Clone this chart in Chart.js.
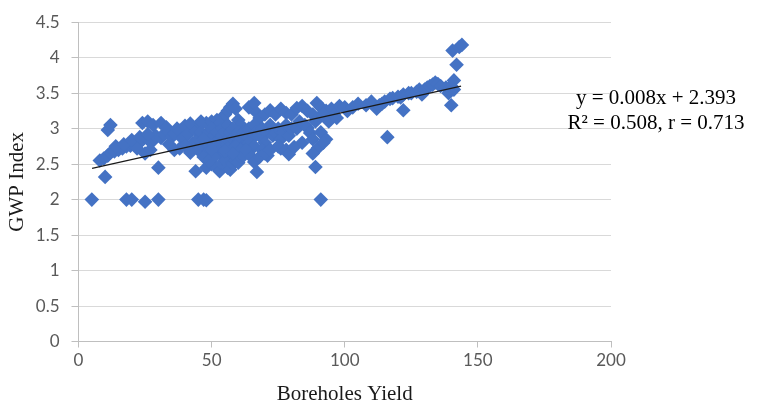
<!DOCTYPE html>
<html>
<head>
<meta charset="utf-8">
<script src="https://cdn.jsdelivr.net/npm/chart.js@4.4.1/dist/chart.umd.min.js"></script>
<style>
  html, body { margin: 0; padding: 0; background: #ffffff; }
  #wrap { width: 758px; height: 407px; }
</style>
</head>
<body>
<div id="wrap"><canvas id="c" width="758" height="407"></canvas></div>
<script>
// ---- Data ----
const boreholeYield = [
  5, 10, 8, 9.5, 11, 12, 13.5, 15, 16.5, 18, 19.5, 21, 22.5, 24,
  11, 12, 18, 20, 25, 30, 24, 26, 28, 25, 26, 28, 29, 30, 31, 31,
  32, 33, 34, 35, 36, 37, 38, 39, 40, 41, 42, 43, 44, 44, 45, 46,
  47, 48, 48, 38, 40, 42, 34, 36,
  14, 17, 20, 23, 26, 22, 27,
  46, 48, 50, 51, 52, 53, 54, 55, 56, 57, 58, 59, 60, 61,
  45, 46, 47, 48, 49, 50, 50, 51, 52, 52, 53, 54, 54, 55, 55, 56, 56, 57, 57, 58, 58, 59, 60, 60, 61, 62, 62,
  45, 47, 49, 51, 53, 56, 59, 61, 54, 57,
  47, 48, 49, 50, 51, 52, 53, 54, 55, 56, 57, 58, 59, 60, 61, 62, 50, 55, 58,
  64, 66, 67, 68, 70, 72, 74, 76, 78, 80,
  63, 64, 65, 66, 67, 68, 69, 70, 71, 72, 73, 74, 75, 76, 77, 78, 79, 80,
  64, 66, 69, 71, 76,
  63, 65, 66, 67, 68, 70, 72, 75, 78, 79,
  82, 84, 86, 88, 89.5, 91, 93, 95, 98, 100, 101,
  81, 82, 83, 84, 85, 86, 87, 88, 89, 90, 90, 91, 92, 93, 94, 96, 97,
  88, 89, 91, 92,
  103, 105, 108, 110, 112, 113, 114, 115, 117, 118, 120, 121, 122, 122, 124, 125,
  127, 128, 129, 130, 131, 132, 133, 134, 135, 136, 138, 139, 116,
  140, 141, 142, 140.5, 143, 144, 139, 140, 141
];
const gwpIndex = [
  2.0, 2.32, 2.55, 2.58, 2.62, 2.66, 2.68, 2.7, 2.72, 2.75, 2.76, 2.8, 2.79, 2.84,
  2.98, 3.05, 2.0, 2.0, 1.97, 2.0, 3.08, 3.1, 3.05, 2.65, 2.85, 2.83, 2.9, 2.45, 2.87, 3.08,
  2.92, 3.02, 2.95, 2.88, 2.93, 3.0, 2.97, 2.86, 3.04, 2.92, 3.07, 2.8, 2.4, 2.97, 2.0, 3.06,
  2.0, 1.99, 2.9, 2.72, 2.76, 2.66, 2.78, 2.7,
  2.75, 2.78, 2.84, 2.88, 2.92, 2.72, 2.7,
  3.1, 3.08, 3.1, 3.05, 3.12, 3.08, 3.15, 3.2, 3.25, 3.3, 3.35, 3.28, 3.12, 3.05,
  2.85, 2.95, 2.75, 2.8, 2.95, 2.85, 3.0, 2.9, 2.75, 2.95, 2.85, 2.9, 3.0, 2.8, 2.95, 3.05, 2.85, 2.75, 2.95, 3.0, 2.85, 2.9, 2.95, 2.8, 2.85, 2.75, 2.95,
  2.7, 2.85, 2.68, 2.78, 2.68, 2.72, 2.75, 2.7, 2.62, 2.6,
  2.6, 2.45, 2.55, 2.5, 2.6, 2.45, 2.4, 2.5, 2.55, 2.45, 2.42, 2.5, 2.55, 2.52, 2.6, 2.62, 2.7, 2.68, 2.65,
  3.3, 3.36, 3.22, 3.15, 3.2, 3.26, 3.2, 3.28, 3.22, 3.2,
  2.9, 3.0, 2.85, 3.05, 2.95, 2.9, 3.0, 2.8, 2.95, 3.05, 2.9, 2.94, 3.0, 2.85, 2.95, 3.05, 2.9, 3.0,
  2.8, 2.75, 2.7, 2.62, 2.72,
  2.7, 2.6, 2.53, 2.39, 2.6, 2.65, 2.7, 2.75, 2.7, 2.64,
  3.29, 3.32, 3.25, 3.2, 3.36, 3.3, 3.25, 3.28, 3.32, 3.3, 3.25,
  2.74, 3.0, 3.1, 2.8, 3.05, 3.01, 2.94, 2.85, 3.1, 3.15, 2.73, 2.95, 3.2, 2.85, 3.1, 3.2, 3.15,
  2.65, 2.46, 2.0, 2.8,
  3.3, 3.35, 3.33, 3.38, 3.28, 3.33, 3.35, 3.38, 3.42, 3.43, 3.45, 3.44, 3.48, 3.26, 3.5, 3.5,
  3.52, 3.55, 3.48, 3.55, 3.58, 3.6, 3.62, 3.65, 3.63, 3.6, 3.58, 3.5, 2.88,
  3.33, 3.68, 3.9, 4.1, 4.15, 4.18, 3.55, 3.6, 3.55
];
// Trend line end points as drawn in the picture
const trendX = [5.1, 143.7];
const trendY = [2.44, 3.60];
// Axis ticks
const xTicks = [0, 50, 100, 150, 200];
const yTicks = [0, 0.5, 1, 1.5, 2, 2.5, 3, 3.5, 4, 4.5];
const xTitle = 'Boreholes Yield';
const yTitle = 'GWP Index';
const eqLines = ['y = 0.008x + 2.393', 'R\u00B2 = 0.508, r = 0.713'];

// ---- Build chart ----
const scatterPts = boreholeYield.map((x, i) => ({ x: x, y: gwpIndex[i] }));
const trendPts = trendX.map((x, i) => ({ x: x, y: trendY[i] }));

const eqPlugin = {
  id: 'eqText',
  afterDraw(chart) {
    const ctx = chart.ctx;
    ctx.save();
    ctx.fillStyle = '#000000';
    ctx.font = '21px "Liberation Serif", "Times New Roman", serif';
    ctx.textAlign = 'center';
    ctx.textBaseline = 'middle';
    const cx = 656;
    ctx.fillText(eqLines[0], cx, 98);
    ctx.fillText(eqLines[1], cx, 123);
    ctx.restore();
  }
};

new Chart(document.getElementById('c'), {
  type: 'scatter',
  data: {
    datasets: [
      {
        type: 'line',
        data: trendPts,
        borderColor: '#1a1a1a',
        borderWidth: 1.2,
        pointRadius: 0,
        fill: false,
        order: 0
      },
      {
        data: scatterPts,
        pointStyle: 'rectRot',
        pointRadius: 7.3,
        pointHoverRadius: 7.3,
        backgroundColor: '#4472C4',
        borderColor: '#4472C4',
        borderWidth: 0,
        order: 1
      }
    ]
  },
  options: {
    responsive: false,
    animation: false,
    events: [],
    layout: { padding: { top: 20.5, right: 147, left: 0, bottom: 0 } },
    plugins: { legend: { display: false }, tooltip: { enabled: false } },
    scales: {
      x: {
        type: 'linear',
        min: 0, max: 200,
        afterBuildTicks: s => { s.ticks = xTicks.map(v => ({ value: v })); },
        afterFit: s => { s.height = 65.5; },
        grid: { drawOnChartArea: false, drawTicks: true, tickLength: 6, tickColor: '#bfbfbf' },
        border: { color: '#bfbfbf', width: 1 },
        ticks: {
          color: '#595959', padding: 3,
          font: { family: 'Lato, "Open Sans", sans-serif', size: 17 },
          callback: v => String(v)
        },
        title: {
          display: true, text: xTitle, color: '#1a1a1a',
          font: { family: '"Liberation Serif", "Times New Roman", serif', size: 21 },
          padding: { top: 0, bottom: 0 }
        }
      },
      y: {
        type: 'linear',
        min: 0, max: 4.5,
        afterBuildTicks: s => { s.ticks = yTicks.map(v => ({ value: v })); },
        afterFit: s => { s.width = 78.5; },
        grid: { color: '#d9d9d9', lineWidth: 1, drawTicks: true, tickLength: 7, tickColor: '#bfbfbf' },
        border: { color: '#bfbfbf', width: 1 },
        ticks: {
          color: '#595959', padding: 12,
          font: { family: 'Lato, "Open Sans", sans-serif', size: 17 },
          callback: v => String(v)
        },
        title: {
          display: true, text: yTitle, color: '#1a1a1a',
          font: { family: '"Liberation Serif", "Times New Roman", serif', size: 21 },
          padding: { top: 5, bottom: 0 }
        }
      }
    }
  },
  plugins: [eqPlugin]
});
</script>
</body>
</html>
